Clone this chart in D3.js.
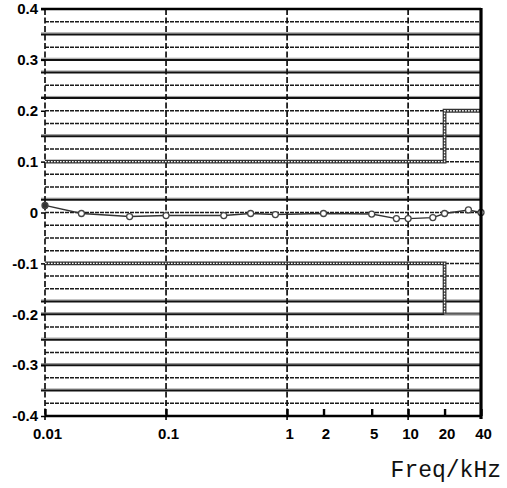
<!DOCTYPE html>
<html>
<head>
<meta charset="utf-8">
<script src="https://cdn.jsdelivr.net/npm/d3@7"></script>
<style>
  body { margin: 0; background: #fff; }
  svg { display: block; }
</style>
</head>
<body>
<svg id="chart" width="507" height="488"></svg>
<script>
// Measured deviation vs frequency
const freqs     = [0.01, 0.02, 0.05, 0.1, 0.3, 0.5, 0.8, 2, 5, 8, 10, 16, 20, 31.5, 40];
const deviation = [0.014, -0.002, -0.008, -0.006, -0.006, -0.002, -0.004, -0.002, -0.003, -0.012, -0.012, -0.010, -0.002, 0.005, 0.000];

// Tolerance limits
const upperLimitFreq = [0.01, 20, 20, 40];
const upperLimitVal  = [0.1, 0.1, 0.2, 0.2];
const lowerLimitFreq = [0.01, 20, 20, 40];
const lowerLimitVal  = [-0.1, -0.1, -0.2, -0.2];

// Axes
const xTicks      = [0.01, 0.1, 1, 2, 5, 10, 20, 40];
const xTickLabels = ["0.01", "0.1", "1", "2", "5", "10", "20", "40"];
const yTicks      = [0.4, 0.3, 0.2, 0.1, 0, -0.1, -0.2, -0.3, -0.4];
const yTickLabels = ["0.4", "0.3", "0.2", "0.1", "0", "-0.1", "-0.2", "-0.3", "-0.4"];
const decadeLines = [0.01, 0.1, 1, 10];
const solidGrid   = [0.35, 0.3, 0.275, 0.225, 0.15, 0.025, -0.175, -0.2, -0.25, -0.3, -0.35];
const dashedGrid  = [0.375, 0.325, 0.25, 0.2, 0.175, 0.125, 0.1, 0.075, 0.05, 0, -0.025, -0.05, -0.075,
                     -0.1, -0.125, -0.15, -0.225, -0.275, -0.325, -0.375];
const xTitle = "Freq/kHz";

const svg = d3.select("#chart");
const x = d3.scaleLog().domain([0.01, 40]).range([45, 481]);
const y = d3.scaleLinear().domain([-0.4, 0.4]).range([416, 9]);
const [x0, x1] = x.range();

// horizontal grid
svg.append("g").selectAll("line").data(dashedGrid).join("line")
  .attr("x1", x0).attr("x2", x1)
  .attr("y1", d => y(d)).attr("y2", d => y(d))
  .attr("stroke", "#1a1a1a").attr("stroke-width", 1.5)
  .attr("stroke-dasharray", "4,1");

const solid = svg.append("g");
solid.selectAll("line.shade").data(solidGrid).join("line").attr("class", "shade")
  .attr("x1", x0 - 4).attr("x2", x1)
  .attr("y1", d => y(d) - 1.6).attr("y2", d => y(d) - 1.6)
  .attr("stroke", "#999").attr("stroke-width", 1);
solid.selectAll("line.main").data(solidGrid).join("line").attr("class", "main")
  .attr("x1", x0 - 4).attr("x2", x1)
  .attr("y1", d => y(d)).attr("y2", d => y(d))
  .attr("stroke", "#111").attr("stroke-width", 2);

// vertical decade lines
svg.append("g").selectAll("line").data(decadeLines).join("line")
  .attr("x1", d => x(d)).attr("x2", d => x(d))
  .attr("y1", y(0.4)).attr("y2", y(-0.4) + 4)
  .attr("stroke", "#111").attr("stroke-width", 1.7)
  .attr("stroke-dasharray", "6,2.5");

// tolerance limit lines
const limitLine = d3.line().x(d => x(d[0])).y(d => y(d[1]));
function drawChain(pts) {
  svg.append("path").attr("d", limitLine(pts)).attr("fill", "none")
    .attr("stroke", "#333").attr("stroke-width", 3.8);
  svg.append("path").attr("d", limitLine(pts)).attr("fill", "none")
    .attr("stroke", "#fff").attr("stroke-width", 1.3).attr("stroke-dasharray", "1.6,1.4");
}
const upperPts = upperLimitFreq.map((f, i) => [f, upperLimitVal[i]]);
const lowerPts = lowerLimitFreq.map((f, i) => [f, lowerLimitVal[i]]);
drawChain(upperPts);
drawChain(lowerPts.slice(0, 3));
svg.append("path").attr("d", limitLine(lowerPts.slice(2)))
  .attr("fill", "none").attr("stroke", "#999").attr("stroke-width", 1);

// measured curve
const pts = freqs.map((f, i) => [f, deviation[i]]);
svg.append("path")
  .attr("d", d3.line().x(d => x(d[0])).y(d => y(d[1]))(pts))
  .attr("fill", "none").attr("stroke", "#333").attr("stroke-width", 1.4);
svg.append("g").selectAll("circle").data(pts).join("circle")
  .attr("cx", d => x(d[0])).attr("cy", d => y(d[1])).attr("r", 3)
  .attr("fill", (d, i) => i === 0 ? "#333" : "#fff")
  .attr("stroke", "#444").attr("stroke-width", 1.3);

// frame: top, bottom, right
svg.append("line").attr("x1", x0 - 4).attr("x2", x1)
  .attr("y1", y(0.4)).attr("y2", y(0.4))
  .attr("stroke", "#000").attr("stroke-width", 2.6);
svg.append("line").attr("x1", x0).attr("x2", x1)
  .attr("y1", y(-0.4)).attr("y2", y(-0.4))
  .attr("stroke", "#000").attr("stroke-width", 2.6);
svg.append("line").attr("x1", x1).attr("x2", x1)
  .attr("y1", y(0.4) - 1).attr("y2", y(-0.4) + 3)
  .attr("stroke", "#000").attr("stroke-width", 3.2);

// axes
const xAxis = d3.axisBottom(x).tickValues(xTicks)
  .tickFormat((d, i) => xTickLabels[i]).tickSizeInner(-7).tickSizeOuter(0).tickPadding(12);
const gx = svg.append("g").attr("transform", `translate(0,${y(-0.4)})`).call(xAxis);
gx.select(".domain").remove();
gx.selectAll(".tick line").attr("stroke", "#000").attr("stroke-width", 2.4);
gx.selectAll(".tick text").attr("dx", "2")
  .style("font-family", "'Liberation Sans', Arial, sans-serif")
  .style("font-weight", "bold").style("font-size", "15px").attr("fill", "#000");

const yAxis = d3.axisLeft(y).tickValues(yTicks)
  .tickFormat((d, i) => yTickLabels[i]).tickSizeInner(4).tickSizeOuter(0).tickPadding(3);
const gy = svg.append("g").attr("transform", `translate(${x0},0)`).call(yAxis);
gy.select(".domain").remove();
gy.selectAll(".tick line").attr("stroke", "#000").attr("stroke-width", 1.5);
gy.selectAll(".tick text")
  .style("font-family", "'Liberation Sans', Arial, sans-serif")
  .style("font-weight", "bold").style("font-size", "15px").attr("fill", "#000");

// axis title
svg.append("text").attr("x", 501).attr("y", 477).attr("text-anchor", "end")
  .style("font-family", "'Liberation Mono', 'Courier New', monospace")
  .style("font-size", "23px").attr("fill", "#111")
  .text(xTitle);
</script>
</body>
</html>
